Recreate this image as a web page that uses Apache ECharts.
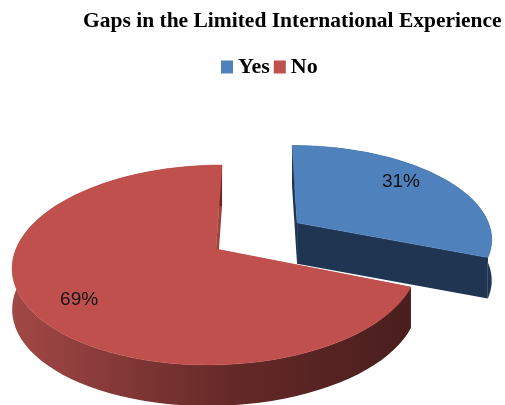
<!DOCTYPE html>
<html>
<head>
<meta charset="utf-8">
<script src="https://cdn.jsdelivr.net/npm/echarts@6/dist/echarts.min.js"></script>
<style>
  html, body { margin: 0; padding: 0; background: #fff; }
  #chart { width: 505px; height: 405px; }
</style>
</head>
<body>
<div id="chart"></div>
<script>
// data
const categories = ['Yes', 'No']
const shares = [31, 69]
// which slice is pulled out of the pie
const exploded = [0.5, 0]

// look of the 3D pie
const topColors = ['#4F81BD', '#C0504D']
const CX = 216, CY = 249, RX = 200, RY = 97.4
const PERSP = 0.16, SKEW = 7, DEPTH = 41

const total = shares.reduce((a, b) => a + b, 0)

function project(px, py, lift) {
  const d = 1 + PERSP * py
  return [CX + (RX * px + SKEW * py) / d, CY - RY * py / d + lift]
}

function sideFill(i) {
  if (i === 0) return '#1F3552'
  return new echarts.graphic.LinearGradient(0, 0, 1, 0, [
    { offset: 0, color: '#A24846' },
    { offset: 0.55, color: '#642927' },
    { offset: 1, color: '#4A1E1E' }
  ])
}

function renderSlice(params, api) {
  const i = params.seriesIndex
  let cum = 0
  for (let k = 0; k < i; k++) cum += shares[k]
  const a0 = 90 - 360 * cum / total
  const a1 = a0 - 360 * api.value(0) / total
  const mid = (a0 + a1) / 2 * Math.PI / 180
  const ox = exploded[i] * Math.cos(mid)
  const oy = exploded[i] * Math.sin(mid)

  const pt = (deg, r, lift) => {
    const t = deg * Math.PI / 180
    return project(ox + r * Math.cos(t), oy + r * Math.sin(t), lift)
  }

  const steps = 80
  const arcTop = [], arcBot = []
  for (let s = 0; s <= steps; s++) {
    const deg = a0 + (a1 - a0) * s / steps
    arcTop.push(pt(deg, 1, 0))
    arcBot.push(pt(deg, 1, DEPTH))
  }
  const apexTop = pt(0, 0, 0)
  const apexBot = pt(0, 0, DEPTH)
  const dark = i === 0 ? '#1F3552' : '#9A4341'

  const children = [
    { type: 'polygon', shape: { points: [apexTop, arcTop[0], arcBot[0], apexBot] }, style: { fill: dark } },
    { type: 'polygon', shape: { points: [apexTop, arcTop[steps], arcBot[steps], apexBot] }, style: { fill: dark } },
    { type: 'polygon', shape: { points: arcTop.concat(arcBot.slice().reverse()) }, style: { fill: sideFill(i) } },
    { type: 'polygon', shape: { points: [apexTop].concat(arcTop) }, style: { fill: topColors[i], stroke: topColors[i], lineWidth: 0.5 } }
  ]

  // label spot inside the top face
  const labelFrac = i === 0 ? 0.45 : 0.485
  const lp = pt(a0 + (a1 - a0) * labelFrac, 0.78, 0)
  children.push({
    type: 'text',
    style: {
      text: Math.round(api.value(0) / total * 100) + '%',
      x: lp[0], y: lp[1],
      align: 'center', verticalAlign: 'middle',
      fill: '#111',
      fontSize: 19,
      fontFamily: 'Liberation Sans'
    }
  })
  return { type: 'group', children: children }
}

const chart = echarts.init(document.getElementById('chart'))
const option = {
  animation: false,
  title: {
    text: 'Gaps in the Limited International Experience',
    left: 78,
    top: 5,
    textStyle: {
      fontFamily: 'Liberation Serif',
      fontWeight: 'bold',
      fontSize: 21.5,
      color: '#000'
    }
  },
  legend: {
    data: categories,
    left: 216,
    top: 51,
    icon: 'rect',
    itemWidth: 12,
    itemHeight: 13,
    itemGap: 4,
    selectedMode: false,
    textStyle: {
      fontFamily: 'Liberation Serif',
      fontWeight: 'bold',
      fontSize: 22,
      color: '#000'
    }
  },
  series: categories.map((name, i) => ({
    type: 'custom',
    name: name,
    coordinateSystem: 'none',
    silent: true,
    itemStyle: { color: topColors[i] },
    renderItem: renderSlice,
    data: [[shares[i]]]
  }))
}
chart.setOption(option)
</script>
</body>
</html>
